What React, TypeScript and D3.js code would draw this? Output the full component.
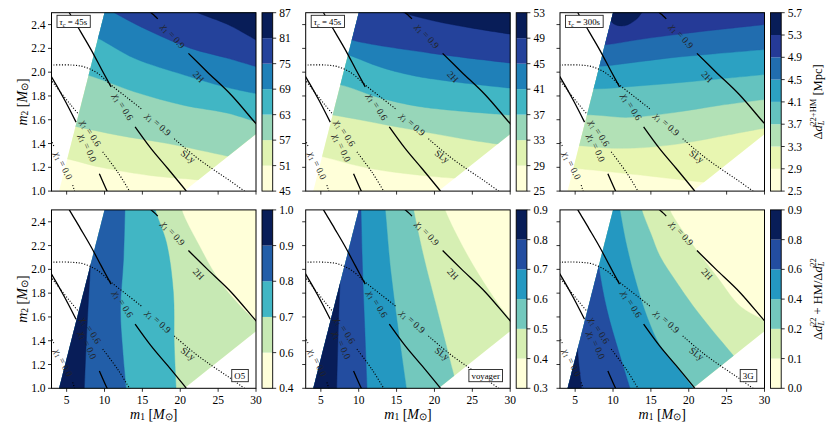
import React, { useLayoutEffect, useRef, useState } from "react";
import * as d3 from "d3";

type Pt = [number, number];

const FONT = "'Liberation Serif','Times New Roman',serif";

// ---------- axes ----------
const m1Domain: Pt = [3, 30];
const m2Domain: Pt = [1.0, 2.5];
const m1Ticks = [5, 10, 15, 20, 25, 30];
const m2Ticks = [1.0, 1.2, 1.4, 1.6, 1.8, 2.0, 2.2, 2.4];

// region of parameter space that is covered (outside it is blank)
const regionOutline: Pt[] = [[4.0, 1.0], [10.0, 2.5], [30, 2.5], [30, 1.48], [20.55, 1.0]];

// ---------- top-left: tau_c = 45s ----------
const levelsA = ["45", "51", "57", "63", "69", "75", "81", "87"];
const contoursA: Pt[][] = [
  [[3, 1.29], [4.9, 1.273], [9.5, 1.2], [16.15, 1.13], [21.4, 1.1], [30, 1.04]],
  [[3, 1.58], [6.46, 1.54], [11.75, 1.47], [18.35, 1.4], [23.6, 1.33], [30, 1.24]],
  [[3, 2.04], [7.78, 1.976], [13.95, 1.835], [20.55, 1.72], [26.3, 1.655], [30, 1.582]],
  [[7, 2.33], [9.1, 2.285], [13.95, 2.116], [20.55, 1.976], [25.84, 1.877], [30, 1.82]],
  [[9, 2.6], [11.3, 2.5], [16.15, 2.34], [21.4, 2.2], [26.3, 2.116], [30, 2.046]],
  [[20, 2.57], [22.3, 2.5], [26.3, 2.4], [30, 2.27]],
];

// ---------- top-middle: tau_c = 45s ----------
const levelsB = ["25", "29", "33", "37", "41", "45", "49", "53"];
const contoursB: Pt[][] = [
  [[3, 1.32], [5.2, 1.29], [11.5, 1.19], [20.3, 1.12], [30, 1.08]],
  [[3, 1.67], [6.57, 1.64], [15.9, 1.53], [24.7, 1.43], [30, 1.38]],
  [[3, 1.92], [7.56, 1.894], [12.5, 1.79], [18.1, 1.71], [30, 1.64]],
  [[6, 2.2], [8.57, 2.147], [13, 2.04], [18.1, 1.96], [30, 1.866]],
  [[7, 2.32], [9.06, 2.27], [19.45, 2.16], [30, 2.077]],
  [[14, 2.55], [15.9, 2.5], [20, 2.43], [25, 2.37], [30, 2.32]],
];

// ---------- top-right: tau_c = 300s ----------
const levelsC = ["2.5", "2.9", "3.3", "3.7", "4.1", "4.5", "4.9", "5.3", "5.7"];
const contoursC: Pt[][] = [
  [[3, 1.2], [5.2, 1.19], [13.6, 1.135], [21.1, 1.08], [30, 1.03]],
  [[3, 1.39], [6.1, 1.38], [10, 1.36], [15, 1.37], [20, 1.41], [25, 1.47], [30, 1.53]],
  [[3, 1.64], [7.4, 1.64], [12, 1.62], [18, 1.66], [24, 1.72], [30, 1.77]],
  [[3, 1.87], [7.85, 1.86], [12.5, 1.88], [17.5, 1.905], [23.5, 1.94], [30, 1.98]],
  [[3, 2.05], [8.3, 2.05], [12.5, 2.08], [17.5, 2.12], [23.5, 2.155], [30, 2.19]],
  [[3, 2.22], [8.95, 2.23], [13, 2.27], [17.5, 2.31], [23.5, 2.355], [30, 2.4]],
  [[9.3, 2.5], [10, 2.41], [11.5, 2.39], [13, 2.44], [13.8, 2.5], [14, 2.52]],
];

// ---------- bottom-left: O5 ratio ----------
const levelsD = ["0.4", "0.6", "0.7", "0.8", "0.9", "1.0"];
const contoursD: Pt[][] = [
  [[20.0, 2.6], [20.2, 2.5], [22.5, 2.2], [25.2, 1.9], [27.8, 1.7], [30, 1.56], [30.5, 1.53]],
  [[16.4, 2.6], [16.7, 2.5], [18.2, 2.22], [19.1, 1.8], [19.2, 1.38], [19.45, 1.0]],
  [[12.75, 2.6], [12.7, 2.5], [12.5, 2.08], [12.1, 1.66], [12.4, 1.32], [12.85, 1.0]],
  [[8.7, 2.6], [8.6, 2.5], [8.1, 1.98], [7.6, 1.4], [7.34, 1.0]],
];

// ---------- bottom-middle: voyager ratio ----------
const levelsE = ["0.3", "0.4", "0.5", "0.6", "0.7", "0.8", "0.9"];
const contoursE: Pt[][] = [
  [[21.0, 2.6], [21.4, 2.5], [24.7, 2.08], [28.3, 1.72], [30, 1.58], [30.5, 1.54]],
  [[17.0, 2.6], [17.25, 2.5], [18.6, 2.1], [20.2, 1.7], [22.4, 1.15], [23.0, 1.0]],
  [[13.3, 2.6], [13.5, 2.5], [14.2, 2.0], [15.2, 1.5], [16.3, 1.0]],
  [[10.25, 2.6], [10.3, 2.5], [10.5, 2.0], [10.8, 1.5], [11.1, 1.0]],
  [[7.95, 2.6], [7.9, 2.5], [7.6, 2.0], [7.3, 1.5], [7.1, 1.0]],
];

// ---------- bottom-right: 3G ratio ----------
const levelsF = ["0.0", "0.1", "0.2", "0.4", "0.6", "0.8", "0.9"];
const contoursF: Pt[][] = [
  [[17.2, 2.6], [17.5, 2.5], [20.6, 2.2], [23.7, 1.94], [26.8, 1.69], [30, 1.57], [30.5, 1.55]],
  [[13.5, 2.6], [13.8, 2.5], [15, 2.3], [16.2, 2.11], [18.3, 1.9], [20.6, 1.69], [23.2, 1.48], [25.7, 1.29], [28, 1.1]],
  [[10.6, 2.6], [10.9, 2.5], [11.8, 2.2], [13.0, 1.9], [14.5, 1.6], [16.2, 1.36], [18.3, 1.19], [20.6, 1.0]],
  [[7.0, 2.7], [7.4, 2.5], [8.07, 2.05], [9.2, 1.66], [10.7, 1.32], [12.25, 1.0]],
  [[4.9, 1.6], [5.2, 1.4], [5.5, 1.2], [5.86, 1.0]],
];

// ---------- EOS disruption lines (same on every panel) ----------
const eosChi = ["0.9", "0.6", "0.0", "0.9", "0.6", "0.0"];
const eosDotted = [false, false, false, true, true, true];
const eosSegments: Pt[][][] = [
  [[[15.7, 2.53], [16.15, 2.5], [16.6, 2.475], [17.03, 2.448]], [[21.08, 2.158], [23.6, 2.0], [26.7, 1.81], [30, 1.568], [30.3, 1.55]]],
  [[[5.1, 2.53], [5.36, 2.5], [6.8, 2.345], [8.22, 2.19], [9.6, 2.025], [10.86, 1.876]], [[14.04, 1.54], [16.15, 1.357], [18.35, 1.19], [20.55, 1.02], [20.8, 1.0]]],
  [[[2.9, 1.97], [3, 1.96], [4.7, 1.77], [6.24, 1.58]], [[9.32, 1.146], [10.34, 1.0], [10.5, 0.98]]],
  [[[2.9, 2.06], [5.6, 2.06], [7.3, 2.045], [9.1, 1.99], [10.9, 1.89], [13.1, 1.78], [15.0, 1.685]], [[19.2, 1.44], [22.0, 1.29], [24.4, 1.18], [26.5, 1.09], [28.5, 1.0], [28.8, 0.99]]],
  [[[2.9, 1.94], [3, 1.93], [4.34, 1.82], [5.6, 1.72], [6.6, 1.645]], [[9.76, 1.33], [11.74, 1.16], [13.3, 1.0], [13.4, 0.99]]],
  [[[2.9, 1.43], [3, 1.42], [3.3, 1.38]], [[5.8, 1.05], [6.05, 1.0], [6.1, 0.99]]],
];
const eosNames = ["2H", "SLy"];
const eosNameAt: Pt[] = [[22.4, 1.96], [21.0, 1.29]];
const eosNameAlong: Pt[][] = [[[21.08, 2.158], [30, 1.568]], [[19.2, 1.44], [28.5, 1.0]]];

// ---------- panel tags ----------
const topTags = ["45s", "45s", "300s"];
const bottomTags = ["O5", "voyager", "3G"];

// ---------- layout ----------
const PANEL_X = [51.5, 305.7, 560];
const PANEL_Y = [12.7, 209.9];
const PW = 204.5;
const PH = 178.4;

const ylgnbuStops = ["#ffffd9", "#edf8b1", "#c7e9b4", "#7fcdbb", "#41b6c4", "#1d91c0", "#225ea8", "#253494", "#081d58"];
const ylgnbu = d3
  .scaleLinear<string>()
  .domain(ylgnbuStops.map((_, i) => i / (ylgnbuStops.length - 1)))
  .range(ylgnbuStops)
  .interpolate(d3.interpolateRgb);

function TagBox({ x, y, corner, children }: { x: number; y: number; corner: "tl" | "br"; children: React.ReactNode }) {
  const ref = useRef<SVGTextElement>(null);
  const [bb, setBB] = useState<{ w: number; h: number }>({ w: 30, h: 10 });
  useLayoutEffect(() => {
    if (ref.current) {
      const b = ref.current.getBBox();
      setBB({ w: b.width, h: b.height });
    }
  }, []);
  const padX = 2.6;
  const bw = bb.w + 2 * padX, bh = 12.2;
  const bx = corner === "tl" ? x : x - bw;
  const by = corner === "tl" ? y : y - bh;
  return (
    <g>
      <rect x={bx} y={by} width={bw} height={bh} fill="#fff" stroke="#222" strokeWidth={0.9} />
      <text ref={ref} x={bx + padX} y={by + bh / 2 + 0.5} fontSize={8.8} dominantBaseline="central" style={{ whiteSpace: "pre" }}>
        {children}
      </text>
    </g>
  );
}

function Panel(props: {
  id: string;
  col: number;
  row: number;
  levels: string[];
  contours: Pt[][];
  side: "above" | "left";
  tag: React.ReactNode;
}) {
  const { id, col, row, levels, contours, side, tag } = props;
  const x0 = PANEL_X[col], y0 = PANEL_Y[row];
  const x = d3.scaleLinear().domain(m1Domain).range([x0, x0 + PW]);
  const y = d3.scaleLinear().domain(m2Domain).range([y0 + PH, y0]);
  const nb = levels.length - 1;
  const colors = d3.range(nb).map((i) => ylgnbu(i / (nb - 1)));
  const smooth = d3
    .line<Pt>()
    .x((d) => x(d[0]))
    .y((d) => y(d[1]))
    .curve(d3.curveCatmullRom.alpha(0.5));
  const lin = (pts: Pt[]) => pts.map((p) => `L${x(p[0])},${y(p[1])}`).join("");
  const bandPaths = contours.map((c) => {
    const f = c[0], l = c[c.length - 1];
    const close: Pt[] =
      side === "above"
        ? [[l[0], 2.8], [f[0], 2.8]]
        : [[l[0], 0.8], [1, 0.8], [1, 2.8], [f[0], 2.8]];
    return (smooth(c) as string) + lin(close) + "Z";
  });
  const maskPath = "M" + regionOutline.map((p) => `${x(p[0])},${y(p[1])}`).join("L") + "Z";

  const cbX = x0 + PW + 6, cbW = 10.7;
  const cy = d3.scaleLinear().domain([0, nb]).range([y0 + PH, y0]);

  const toPx = (p: Pt): Pt => [x(p[0]), y(p[1])];
  const angleOf = (a: Pt, b: Pt) => {
    const pa = toPx(a), pb = toPx(b);
    return (Math.atan2(pb[1] - pa[1], pb[0] - pa[0]) * 180) / Math.PI;
  };

  return (
    <g>
      <defs>
        <clipPath id={`mask-${id}`}>
          <path d={maskPath} />
        </clipPath>
        <clipPath id={`plot-${id}`}>
          <rect x={x0} y={y0} width={PW} height={PH} />
        </clipPath>
      </defs>
      <g clipPath={`url(#mask-${id})`}>
        <rect x={x0} y={y0} width={PW} height={PH} fill={colors[0]} />
        {bandPaths.map((d, i) => (
          <path key={i} d={d} fill={colors[i + 1]} stroke={colors[i + 1]} strokeWidth={0.4} />
        ))}
      </g>
      <g clipPath={`url(#plot-${id})`}>
        {eosSegments.map((segs, li) =>
          segs.map((s, si) => (
            <path
              key={`${li}-${si}`}
              d={smooth(s) as string}
              fill="none"
              stroke="#000"
              strokeWidth={eosDotted[li] ? 1.1 : 1.3}
              strokeDasharray={eosDotted[li] ? "1.1 1.7" : undefined}
            />
          ))
        )}
      </g>
      {eosSegments.map((segs, li) => {
        const a = segs[0][segs[0].length - 1];
        const b = segs[1][0];
        const mid = toPx([(a[0] + b[0]) / 2, (a[1] + b[1]) / 2]);
        const ang = angleOf(a, b);
        return (
          <text
            key={`lab${li}`}
            transform={`translate(${mid[0]},${mid[1]}) rotate(${ang})`}
            textAnchor="middle"
            dominantBaseline="central"
            fontSize={9.5}
            fill="#222"
            style={{ whiteSpace: "pre" }}
          >
            <tspan fontStyle="italic">χ</tspan>
            <tspan fontSize={6.8} dy={2}>1</tspan>
            <tspan dy={-2}>{` = ${eosChi[li]}`}</tspan>
          </text>
        );
      })}
      {eosNames.map((n, i) => {
        const p = toPx(eosNameAt[i]);
        const ang = angleOf(eosNameAlong[i][0], eosNameAlong[i][1]);
        return (
          <text
            key={n}
            transform={`translate(${p[0]},${p[1]}) rotate(${ang})`}
            textAnchor="middle"
            dominantBaseline="central"
            fontSize={9.5}
            fill="#222"
          >
            {n}
          </text>
        );
      })}
      {row === 0 ? (
        <TagBox x={x0 + 5.5} y={y0 + 2.6} corner="tl">
          {tag}
        </TagBox>
      ) : (
        <TagBox x={x0 + PW - 7.7} y={y0 + PH - 6.6} corner="br">
          {tag}
        </TagBox>
      )}
      <rect x={x0} y={y0} width={PW} height={PH} fill="none" stroke="#000" strokeWidth={1} />
      {m1Ticks.map((t) => (
        <g key={`xt${t}`}>
          <line x1={x(t)} x2={x(t)} y1={y0 + PH} y2={y0 + PH + 3.5} stroke="#000" strokeWidth={0.8} />
          {row === 1 && (
            <text x={x(t)} y={y0 + PH + 12} fontSize={11.5} textAnchor="middle" dominantBaseline="central">
              {t}
            </text>
          )}
        </g>
      ))}
      {m2Ticks.map((t) => (
        <g key={`yt${t}`}>
          <line x1={x0 - 3.5} x2={x0} y1={y(t)} y2={y(t)} stroke="#000" strokeWidth={0.8} />
          {col === 0 && (
            <text x={x0 - 6} y={y(t)} fontSize={11.5} textAnchor="end" dominantBaseline="central">
              {t.toFixed(1)}
            </text>
          )}
        </g>
      ))}
      {/* colorbar */}
      {colors.map((c, i) => (
        <rect key={`cb${i}`} x={cbX} y={cy(i + 1)} width={cbW} height={cy(i) - cy(i + 1)} fill={c} />
      ))}
      <rect x={cbX} y={y0} width={cbW} height={PH} fill="none" stroke="#000" strokeWidth={0.9} />
      {levels.map((lab, i) => (
        <g key={`cbt${i}`}>
          <line x1={cbX + cbW} x2={cbX + cbW + 3.5} y1={cy(i)} y2={cy(i)} stroke="#000" strokeWidth={0.8} />
          <text x={cbX + cbW + 6.5} y={cy(i)} fontSize={11.5} dominantBaseline="central">
            {lab}
          </text>
        </g>
      ))}
    </g>
  );
}

function MassLabel({ sub }: { sub: string }) {
  return (
    <>
      <tspan fontStyle="italic">m</tspan>
      <tspan fontSize={9.5} dy={3}>{sub}</tspan>
      <tspan dy={-3}>{" ["}</tspan>
      <tspan fontStyle="italic">M</tspan>
      <tspan fontSize={9.5} dy={3}>⊙</tspan>
      <tspan dy={-3}>]</tspan>
    </>
  );
}

function TauTag({ v }: { v: string }) {
  return (
    <>
      <tspan fontStyle="italic">τ</tspan>
      <tspan fontSize={6.2} dy={2} fontStyle="italic">c</tspan>
      <tspan dy={-2}>{` = ${v}`}</tspan>
    </>
  );
}

export default function App() {
  const topLevels = [levelsA, levelsB, levelsC];
  const topContours = [contoursA, contoursB, contoursC];
  const botLevels = [levelsD, levelsE, levelsF];
  const botContours = [contoursD, contoursE, contoursF];
  return (
    <svg
      width={830}
      height={431}
      viewBox="0 0 830 431"
      fontFamily={FONT}
      style={{ position: "absolute", left: 0, top: 0, background: "#fff", display: "block" }}
    >
      <rect x={0} y={0} width={830} height={431} fill="#fff" />
      {[0, 1, 2].map((c) => (
        <Panel
          key={`t${c}`}
          id={`t${c}`}
          col={c}
          row={0}
          levels={topLevels[c]}
          contours={topContours[c]}
          side="above"
          tag={<TauTag v={topTags[c]} />}
        />
      ))}
      {[0, 1, 2].map((c) => (
        <Panel
          key={`b${c}`}
          id={`b${c}`}
          col={c}
          row={1}
          levels={botLevels[c]}
          contours={botContours[c]}
          side="left"
          tag={bottomTags[c]}
        />
      ))}
      {PANEL_Y.map((py, r) => (
        <text
          key={`yl${r}`}
          transform={`translate(22,${py + PH / 2}) rotate(-90)`}
          textAnchor="middle"
          dominantBaseline="central"
          fontSize={14}
          style={{ whiteSpace: "pre" }}
        >
          <MassLabel sub="2" />
        </text>
      ))}
      {PANEL_X.map((px, c) => (
        <text
          key={`xl${c}`}
          x={px + PW / 2}
          y={414}
          textAnchor="middle"
          dominantBaseline="central"
          fontSize={14}
          style={{ whiteSpace: "pre" }}
        >
          <MassLabel sub="1" />
        </text>
      ))}
      <text
        transform={`translate(818,${PANEL_Y[0] + PH / 2}) rotate(-90)`}
        textAnchor="middle"
        dominantBaseline="central"
        fontSize={12.5}
        style={{ whiteSpace: "pre" }}
      >
        <tspan>Δ</tspan>
        <tspan fontStyle="italic">d</tspan>
        <tspan fontSize={8.5} dy={2.5} fontStyle="italic">L</tspan>
        <tspan fontSize={8.5} dx={-5.2} dy={-8}>22+HM</tspan>
        <tspan dy={5.5}>{" [Mpc]"}</tspan>
      </text>
      <text
        transform={`translate(818,${PANEL_Y[1] + PH / 2}) rotate(-90)`}
        textAnchor="middle"
        dominantBaseline="central"
        fontSize={12.5}
        style={{ whiteSpace: "pre" }}
      >
        <tspan>Δ</tspan>
        <tspan fontStyle="italic">d</tspan>
        <tspan fontSize={8.5} dy={2.5} fontStyle="italic">L</tspan>
        <tspan fontSize={8.5} dx={-5.2} dy={-8}>22</tspan>
        <tspan dy={5.5}>{" + HM/Δ"}</tspan>
        <tspan fontStyle="italic">d</tspan>
        <tspan fontSize={8.5} dy={2.5} fontStyle="italic">L</tspan>
        <tspan fontSize={8.5} dx={-5.2} dy={-8}>22</tspan>
      </text>
    </svg>
  );
}
